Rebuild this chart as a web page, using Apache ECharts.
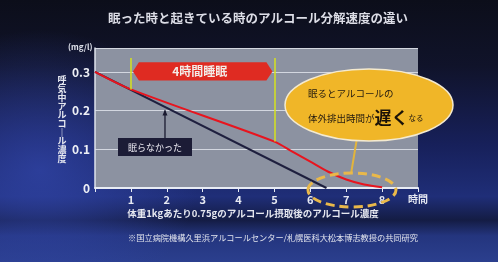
<!DOCTYPE html>
<html><head><meta charset="utf-8">
<script src="https://cdn.jsdelivr.net/npm/echarts@6/dist/echarts.min.js"></script>
<style>
html,body{margin:0;padding:0;width:498px;height:262px;overflow:hidden;
background:
 radial-gradient(ellipse 160px 140px at 40px 170px, rgba(50,70,170,0.75), rgba(30,40,110,0) 100%),
 linear-gradient(180deg,#0c0e1a 0%,#10132a 25%,#17205a 55%,#1f2e78 75%,#141c44 84%,#24357e 90%,#2b3f8e 100%);}
#c{width:498px;height:262px;}
</style></head><body>
<div id="c"></div>
<script>
const title = '眠った時と起きている時のアルコール分解速度の違い';
const yTicks = [0, 0.1, 0.2, 0.3];
const xTicks = [1, 2, 3, 4, 5, 6, 7, 8];
const xUnit = '時間';
const yUnit = '(mg/l)';
const yName = '呼気中アルコール濃度';
const xName = '体重1kgあたり0.75gのアルコール摂取後のアルコール濃度';
const footnote = '※国立病院機構久里浜アルコールセンター/札幌医科大松本博志教授の共同研究';
// sleeping 4 hours (red)
const sleptHours = [0, 1, 5, 5.5, 6, 6.5, 7, 7.5, 8];
const sleptValues = [0.3, 0.255, 0.12, 0.094, 0.068, 0.042, 0.022, 0.009, 0.002];
// did not sleep (black)
const awakeHours = [0, 6.45];
const awakeValues = [0.3, 0];
const sleepStart = 1, sleepEnd = 5;
const bannerText = '4時間睡眠';
const awakeLabel = '眠らなかった';

const chart = echarts.init(document.getElementById('c'), null, {renderer:'canvas'});
const font = '"Noto Sans CJK JP", "Noto Sans", sans-serif';
chart.setOption({
  backgroundColor: 'transparent',
  animation: false,
  grid: {left: 95, right: 80, top: 48, bottom: 74, show: true, backgroundColor: '#8c92a1', borderWidth: 0},
  xAxis: {type: 'value', min: 0, max: 9, interval: 1,
    axisLine: {show: true, lineStyle: {color: '#e8ecf4', width: 2}},
    axisTick: {show: true, length: 4, lineStyle: {color: '#e8ecf4', width: 1}},
    splitLine: {show: false},
    axisLabel: {color: '#e6e9f2', fontFamily: font, fontSize: 11, fontWeight: 'bold', margin: 6,
      formatter: v => v === 9 ? '{u|' + xUnit + '}' : (xTicks.includes(v) ? String(v) : ''),
      rich: {u: {fontSize: 10, fontWeight: 'bold', fontFamily: font, color: '#e6e9f2'}}}
  },
  yAxis: {type: 'value', min: 0, max: 0.362, interval: 0.1,
    axisLine: {show: true, lineStyle: {color: '#dfe3ec', width: 1.5}},
    axisTick: {show: false},
    splitLine: {show: true, lineStyle: {color: 'rgba(235,238,245,0.75)', width: 1}},
    axisLabel: {color: '#eef0f6', fontFamily: font, fontSize: 12, fontWeight: 'bold', margin: 5,
      showMaxLabel: false,
      formatter: v => yTicks.includes(Math.round(v*10)/10) && Math.abs(v - Math.round(v*10)/10) < 1e-6 ? (v === 0 ? '0' : v.toFixed(1)) : ''}
  },
  series: [
    {type: 'line', data: awakeHours.map((h, i) => [h, awakeValues[i]]), symbol: 'none', z: 3,
      lineStyle: {color: '#1e1f3e', width: 2}},
    {type: 'line', data: sleptHours.map((h, i) => [h, sleptValues[i]]), symbol: 'none', smooth: 0.3, z: 4,
      lineStyle: {color: '#e8141e', width: 2},
      markLine: {symbol: 'none', silent: true, label: {show: false},
        lineStyle: {color: '#d6e21e', width: 1.5, type: 'solid'},
        data: [
          [{coord: [sleepStart, 0.336]}, {coord: [sleepStart, sleptValues[sleptHours.indexOf(sleepStart)]]}],
          [{coord: [sleepEnd, 0.336]}, {coord: [sleepEnd, sleptValues[sleptHours.indexOf(sleepEnd)]]}]
        ]}}
  ]
});

const p = (x, y) => chart.convertToPixel({gridIndex: 0}, [x, y]);
const b1 = p(sleepStart, 0.325), b2 = p(sleepEnd, 0.278);
const bm = (b1[1] + b2[1]) / 2;
const arrowTip = p(1.95, 0.203);
const yChars = yName.split('').map(c => c === 'ー' ? '｜' : c);
const yNameGraphics = yChars.map((c, i) => ({type: 'text', x: 62, y: 80 + i * 8.7,
  style: {text: c, fill: '#e4e6ef', fontSize: 9, fontWeight: 'bold', fontFamily: font, align: 'center', verticalAlign: 'middle'}}));
chart.setOption({
  graphic: [
    {type: 'text', x: 258, y: 18, style: {text: title, fill: '#dcdde6', font: 'bold 12.5px ' + font, align: 'center', verticalAlign: 'middle'}},
    {type: 'text', x: 68, y: 43, style: {text: yUnit, fill: '#e0e3ec', font: 'bold 8px ' + font}},
    ...yNameGraphics,
    {type: 'text', x: 253, y: 209, style: {text: xName, fill: '#e6e8f0', font: 'bold 9.5px ' + font, align: 'center'}},
    {type: 'text', x: 273, y: 234, style: {text: footnote, fill: '#e2e4ec', font: '8.2px ' + font, align: 'center'}},
    // banner
    {type: 'polygon', z: 10, shape: {points: [[b1[0]+2, bm], [b1[0]+8, b1[1]], [b2[0]-8, b1[1]], [b2[0]-2, bm], [b2[0]-8, b2[1]], [b1[0]+8, b2[1]]]},
      style: {fill: '#df2b22'}},
    {type: 'text', z: 11, x: (b1[0]+b2[0])/2 - 3, y: bm, style: {text: bannerText, fill: '#f2ece8', font: 'bold 12px ' + font, align: 'center', verticalAlign: 'middle'}},
    // awake label
    {type: 'line', z: 10, shape: {x1: arrowTip[0], y1: 139, x2: arrowTip[0], y2: arrowTip[1] + 1}, style: {stroke: '#1a1a30', lineWidth: 1.3}},
    {type: 'polygon', z: 10, shape: {points: [[arrowTip[0], arrowTip[1]], [arrowTip[0]-2.5, arrowTip[1]+6], [arrowTip[0]+2.5, arrowTip[1]+6]]}, style: {fill: '#1a1a30'}},
    {type: 'rect', z: 10, shape: {x: 118, y: 138, width: 74, height: 18}, style: {fill: '#1c1c36'}},
    {type: 'text', z: 11, x: 155, y: 147.5, style: {text: awakeLabel, fill: '#eceaf2', font: '9px ' + font, align: 'center', verticalAlign: 'middle'}},
    // callout ellipse
    {type: 'line', z: 9, shape: {x1: 357, y1: 138, x2: 351, y2: 174}, style: {stroke: '#e2b43c', lineWidth: 2}},
    {type: 'ellipse', z: 10, shape: {cx: 369, cy: 105, rx: 84, ry: 36}, style: {fill: '#f0b628', stroke: '#f4ead0', lineWidth: 1.5}},
    {type: 'text', z: 11, x: 308, y: 93, style: {text: '眠るとアルコールの', fill: '#231a10', font: '9.5px ' + font, verticalAlign: 'middle'}},
    {type: 'text', z: 11, x: 308, y: 118, style: {
      text: '{a|体外排出時間が}{b|遅く}{c|なる}',
      verticalAlign: 'middle',
      rich: {a: {fill: '#231a10', font: '9.5px ' + font}, b: {fill: '#1a1208', font: 'bold 17px ' + font}, c: {fill: '#231a10', font: '7.5px ' + font}}}},
    {type: 'ellipse', z: 12, shape: {cx: 352, cy: 190, rx: 44, ry: 17}, style: {fill: 'none', stroke: '#e9b84a', lineWidth: 3, lineDash: [9, 5]}}
  ]
});
</script></body></html>
